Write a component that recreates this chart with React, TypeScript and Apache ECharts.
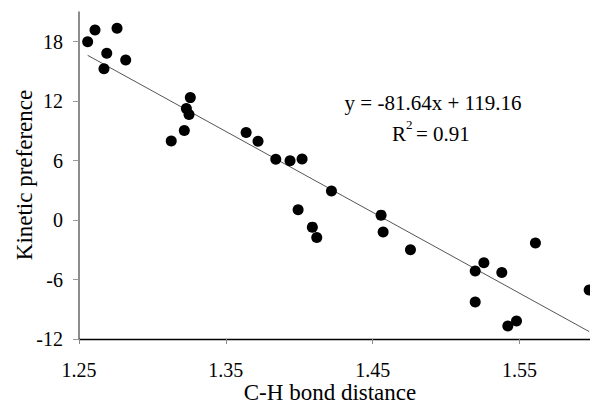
import React, { useEffect, useRef } from "react";
import * as echarts from "echarts";

const bondDistance = [
  1.2559, 1.2609, 1.2759, 1.2689, 1.2818, 1.267, 1.3258, 1.3231, 1.3249, 1.3217, 1.3128,
  1.3638, 1.3719, 1.384, 1.3937, 1.4019, 1.4219, 1.3992, 1.4089, 1.4119, 1.4557, 1.4571,
  1.4757, 1.5608, 1.5257, 1.5198, 1.5379, 1.5198, 1.5479, 1.542, 1.5974,
];
const kineticPreference = [
  18.0, 19.18, 19.35, 16.83, 16.16, 15.28, 12.36, 11.27, 10.65, 9.03, 7.99,
  8.83, 7.96, 6.15, 5.98, 6.16, 2.93, 1.04, -0.71, -1.75, 0.5, -1.21,
  -2.99, -2.32, -4.3, -5.14, -5.28, -8.27, -10.18, -10.69, -7.06,
];
const xTicks = [1.25, 1.35, 1.45, 1.55];
const yTicks = [-12, -6, 0, 6, 12, 18];
const slope = -81.64;
const intercept = 119.16;
const equationText = "y = -81.64x + 119.16";
const r2Value = "0.91";

const FONT = "Liberation Serif";

const txt = (text: string, size: number, extra: any = {}) => ({
  text,
  fill: "#000",
  fontFamily: FONT,
  fontSize: size,
  verticalAlign: "middle",
  ...extra,
});

export default function App() {
  const ref = useRef<HTMLDivElement>(null);
  useEffect(() => {
    if (!ref.current) return;
    const chart = echarts.init(ref.current, undefined, { renderer: "svg" });
    const points = bondDistance.map((x, i) => [x, kineticPreference[i]]);
    const xMin = Math.min(...bondDistance);
    const xMax = Math.max(...bondDistance);
    const trend = [
      [xMin, slope * xMin + intercept],
      [xMax, slope * xMax + intercept],
    ];
    chart.setOption({
      animation: false,
      backgroundColor: "#ffffff",
      textStyle: { fontFamily: FONT },
      grid: { left: 79, top: 12, width: 514, height: 327, containLabel: false, outerBoundsMode: "none" },
      xAxis: {
        type: "value",
        min: 1.25,
        max: 1.6,
        interval: 0.1,
        splitLine: { show: false },
        axisLine: { onZero: false, lineStyle: { color: "#000", width: 1.4 } },
        axisTick: { customValues: xTicks, length: 5, lineStyle: { color: "#888", width: 1 } },
        axisLabel: {
          customValues: xTicks,
          formatter: (v: number) => v.toFixed(2),
          color: "#000",
          fontFamily: FONT,
          fontSize: 20,
          margin: 21,
        },
      },
      yAxis: {
        type: "value",
        min: -12,
        max: 21,
        interval: 6,
        splitLine: { show: false },
        axisLine: { onZero: false, lineStyle: { color: "#666", width: 1.5 } },
        axisTick: { customValues: yTicks, length: 6, lineStyle: { color: "#999", width: 1 } },
        axisLabel: {
          customValues: yTicks,
          color: "#000",
          fontFamily: FONT,
          fontSize: 20,
          margin: 16,
        },
      },
      series: [
        {
          type: "line",
          data: trend,
          symbol: "none",
          lineStyle: { color: "#555", width: 1 },
          z: 1,
        },
        {
          type: "scatter",
          data: points,
          symbol: "circle",
          symbolSize: 11,
          itemStyle: { color: "#000", opacity: 1 },
          z: 2,
        },
      ],
      graphic: [
        { type: "text", x: 433, y: 103, style: txt(equationText, 21, { align: "center" }) },
        { type: "text", x: 392, y: 134, style: txt("R", 21, { align: "left" }) },
        { type: "text", x: 406, y: 124, style: txt("2", 13, { align: "left" }) },
        { type: "text", x: 416, y: 134, style: txt("= " + r2Value, 21, { align: "left" }) },
        { type: "text", x: 330, y: 392, style: txt("C-H bond distance", 23, { align: "center" }) },
        {
          type: "text",
          x: 24,
          y: 175,
          rotation: Math.PI / 2,
          style: txt("Kinetic preference", 23, { align: "center" }),
        },
      ],
    });
    return () => chart.dispose();
  }, []);
  return (
    <div
      ref={ref}
      style={{ position: "fixed", left: 0, top: 0, width: 590, height: 404, background: "#fff" }}
    />
  );
}
